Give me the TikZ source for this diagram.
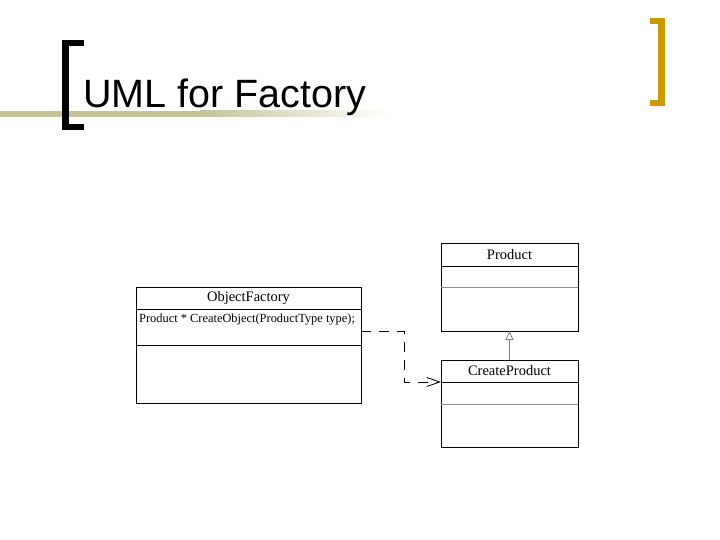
\documentclass[tikz,border=0pt]{standalone}
\usepackage{fontspec}
\setmainfont{Liberation Serif}
\newfontfamily\titlefont{Liberation Sans}
\usetikzlibrary{arrows.meta}
\definecolor{olivebar}{RGB}{196,196,150}
\definecolor{goldbar}{RGB}{204,153,0}
\tikzset{
  classbox/.style={draw=black, line width=0.8pt, fill=white},
  sepblack/.style={draw=black, line width=0.8pt},
  sepgray/.style={draw=black!45, line width=0.6pt},
  classname/.style={font=\fontsize{14.5}{16}\selectfont, anchor=center, inner sep=0pt},
  opname/.style={font=\fontsize{12.4}{14}\selectfont, anchor=west, inner sep=0pt},
  depend/.style={draw=black, line width=0.8pt, dash pattern=on 10pt off 8pt, -{Straight Barb[length=13pt,width=9pt,line width=0.8pt]}},
  inherit/.style={draw=black!50, line width=0.8pt, -{Triangle[open,length=9pt,width=8pt,line width=0.8pt]}},
}
\begin{document}
\begin{tikzpicture}[x=1pt,y=-1pt]
\useasboundingbox (0,0) rectangle (720,540);
% title decoration
\fill[olivebar] (0,111) rectangle (200,117);
\shade[left color=olivebar, right color=white] (200,111) rectangle (390,117);
\fill[black] (62,40) rectangle (69,130);
\fill[black] (62,40) rectangle (84,46);
\fill[black] (62,124) rectangle (84,130);
\fill[goldbar] (658,18) rectangle (665,106);
\fill[goldbar] (650,18) rectangle (665,24);
\fill[goldbar] (650,100) rectangle (665,106);
\node[anchor=base west, inner sep=0pt, font=\titlefont\fontsize{39.5}{44}\selectfont] (title) at (83,108) {UML for Factory};
% ObjectFactory
\draw[classbox] (136,287) rectangle (361,403);
\draw[sepblack] (136,309) -- (361,309);
\draw[sepblack] (136,345) -- (361,345);
\node[classname] (of) at (248.5,298) {ObjectFactory};
\node[opname] (ofop) at (139,320) {Product * CreateObject(ProductType type);};
\coordinate (ofr) at (361,331);
% Product
\draw[classbox] (441,243) rectangle (578,331);
\draw[sepblack] (441,266) -- (578,266);
\draw[sepgray] (441,287) -- (578,287);
\node[classname] (prod) at (509.5,255) {Product};
\coordinate (prodb) at (509.5,331);
% CreateProduct
\draw[classbox] (441,360) rectangle (578,447);
\draw[sepblack] (441,382) -- (578,382);
\draw[sepgray] (441,404) -- (578,404);
\node[classname] (cp) at (509.5,371) {CreateProduct};
\coordinate (cpt) at (509.5,360);
\coordinate (cpl) at (441,382);
% connectors
\draw[inherit] (cpt) -- (prodb);
\draw[depend] (ofr) -- (404,331) -- (404,382) -- (cpl);
\end{tikzpicture}
\end{document}
